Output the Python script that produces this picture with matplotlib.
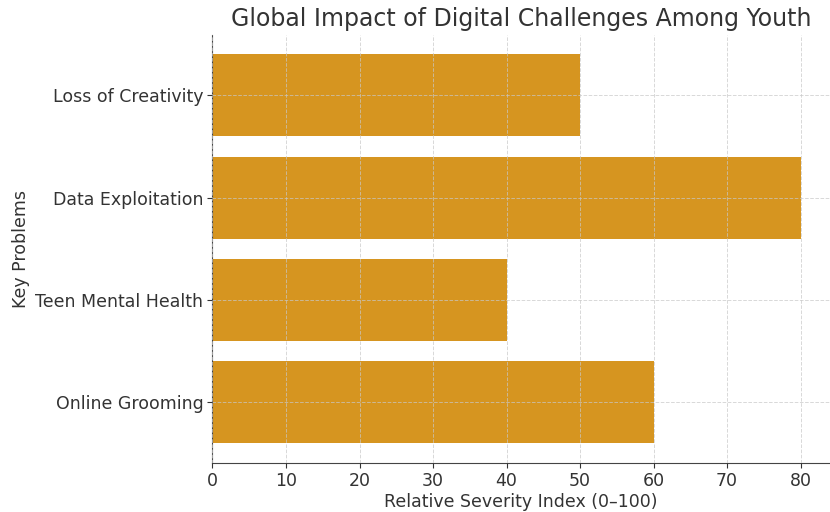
import matplotlib.pyplot as plt

problems = ["Online Grooming", "Teen Mental Health", "Data Exploitation", "Loss of Creativity"]
severity = [60, 40, 80, 50]

fig = plt.figure(figsize=(8.3, 5.12), dpi=100)
ax = fig.add_axes([0.256, 0.096, 0.744, 0.836])

ax.barh(problems, severity, color="#D69520")
ax.grid(True, linestyle="--", color="#c8c8c8", alpha=0.7, linewidth=0.7)
ax.set_axisbelow(False)

ax.spines["top"].set_visible(False)
ax.spines["right"].set_visible(False)
ax.spines["left"].set_color("#444444")
ax.spines["bottom"].set_color("#444444")

ax.tick_params(labelsize=12.5, colors="#333333", pad=3)
ax.set_xlabel("Relative Severity Index (0–100)", fontsize=12.5, color="#333333", labelpad=2)
ax.set_ylabel("Key Problems", fontsize=12.5, color="#333333", labelpad=4)
ax.set_title("Global Impact of Digital Challenges Among Youth", fontsize=17, color="#333333")

fig.savefig("out.png", dpi=100)
